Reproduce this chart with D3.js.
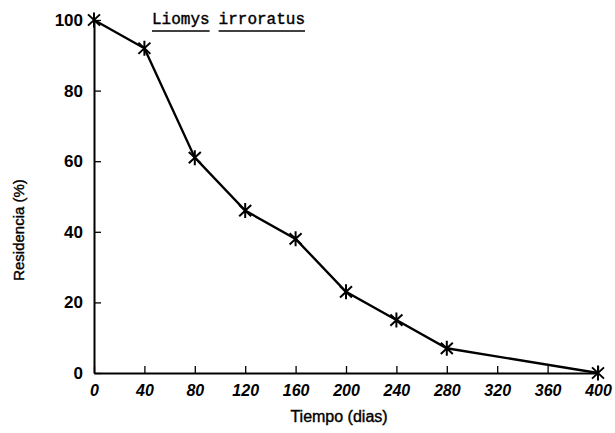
<!DOCTYPE html>
<html>
<head>
<meta charset="utf-8">
<script src="https://cdn.jsdelivr.net/npm/d3@7"></script>
<style>
  body { margin: 0; background: #fff; }
</style>
</head>
<body>
<div id="chart"></div>
<script>
// residence data
const dias = [0, 40, 80, 120, 160, 200, 240, 280, 400];
const residencia = [100, 92, 61, 46, 38, 23, 15, 7, 0];
const xTicks = [0, 40, 80, 120, 160, 200, 240, 280, 320, 360, 400];
const yTicks = [0, 20, 40, 60, 80, 100];

const w = 615, h = 433;
const margin = { top: 20, right: 17, bottom: 60, left: 94 };

const svg = d3.select('#chart').append('svg')
  .attr('width', w)
  .attr('height', h);

const x = d3.scaleLinear().domain([0, 400]).range([margin.left, w - margin.right]);
const y = d3.scaleLinear().domain([0, 100]).range([h - margin.bottom, margin.top]);

// x axis, ticks pointing up into the plot
const xAxis = svg.append('g')
  .attr('transform', 'translate(0,' + y(0) + ')')
  .call(d3.axisBottom(x).tickValues(xTicks).tickSizeInner(-7).tickSizeOuter(0).tickPadding(12));
xAxis.select('.domain').attr('stroke-width', 2);
xAxis.selectAll('.tick line').attr('stroke-width', 1.3);
xAxis.selectAll('text')
  .attr('font-family', 'Liberation Sans, Arial, sans-serif')
  .attr('font-size', 16)
  .attr('font-style', 'italic')
  .attr('font-weight', 'bold')
  .attr('fill', '#000');

// y axis, ticks pointing right
const yAxis = svg.append('g')
  .attr('transform', 'translate(' + x(0) + ',0)')
  .call(d3.axisLeft(y).tickValues(yTicks).tickSizeInner(-7).tickSizeOuter(0).tickPadding(11));
yAxis.select('.domain').attr('stroke-width', 2);
yAxis.selectAll('.tick line').attr('stroke-width', 1.3);
yAxis.selectAll('text')
  .attr('font-family', 'Liberation Sans, Arial, sans-serif')
  .attr('font-size', 17)
  .attr('font-weight', 'bold')
  .attr('fill', '#000');

// the series line
const line = d3.line()
  .x(function (d, i) { return x(dias[i]); })
  .y(function (d) { return y(d); });

svg.append('path')
  .datum(residencia)
  .attr('d', line)
  .attr('fill', 'none')
  .attr('stroke', '#000')
  .attr('stroke-width', 2.4);

// star marker: an X with a vertical bar through it
const xStar = {
  draw(context, size) {
    const r = Math.sqrt(size) / 2;
    context.moveTo(0, -r); context.lineTo(0, r);
    context.moveTo(-r * 0.8, -r * 0.75); context.lineTo(r * 0.8, r * 0.75);
    context.moveTo(-r * 0.8, r * 0.75); context.lineTo(r * 0.8, -r * 0.75);
  }
};
const star = d3.symbol().type(xStar).size(225);
svg.selectAll('.marker')
  .data(residencia)
  .enter()
  .append('path')
  .attr('class', 'marker')
  .attr('transform', function (d, i) { return 'translate(' + x(dias[i]) + ',' + y(d) + ')'; })
  .attr('d', star)
  .attr('fill', 'none')
  .attr('stroke', '#000')
  .attr('stroke-width', 2);

// title in typewriter style, underlined word by word
const titleWords = ['Liomys', 'irroratus'];
let tx = 152;
titleWords.forEach(function (word) {
  const t = svg.append('text')
    .attr('x', tx)
    .attr('y', 24)
    .attr('font-family', 'Liberation Mono, Courier New, monospace')
    .attr('font-size', 16)
    .attr('fill', '#000')
    .attr('stroke', '#000')
    .attr('stroke-width', 0.4)
    .text(word);
  const len = t.node().getComputedTextLength();
  svg.append('line')
    .attr('x1', tx).attr('x2', tx + len)
    .attr('y1', 31).attr('y2', 31)
    .attr('stroke', '#000')
    .attr('stroke-width', 1.6);
  tx += len + 9;
});

// axis titles
svg.append('text')
  .attr('x', 339)
  .attr('y', 422)
  .attr('text-anchor', 'middle')
  .attr('font-family', 'Liberation Sans, Arial, sans-serif')
  .attr('font-size', 16)
  .attr('stroke', '#000')
  .attr('stroke-width', 0.4)
  .text('Tiempo (dias)');

svg.append('text')
  .attr('transform', 'rotate(-90)')
  .attr('x', -230)
  .attr('y', 24)
  .attr('text-anchor', 'middle')
  .attr('font-family', 'Liberation Sans, Arial, sans-serif')
  .attr('font-size', 15)
  .attr('stroke', '#000')
  .attr('stroke-width', 0.4)
  .text('Residencia (%)');
</script>
</body>
</html>
